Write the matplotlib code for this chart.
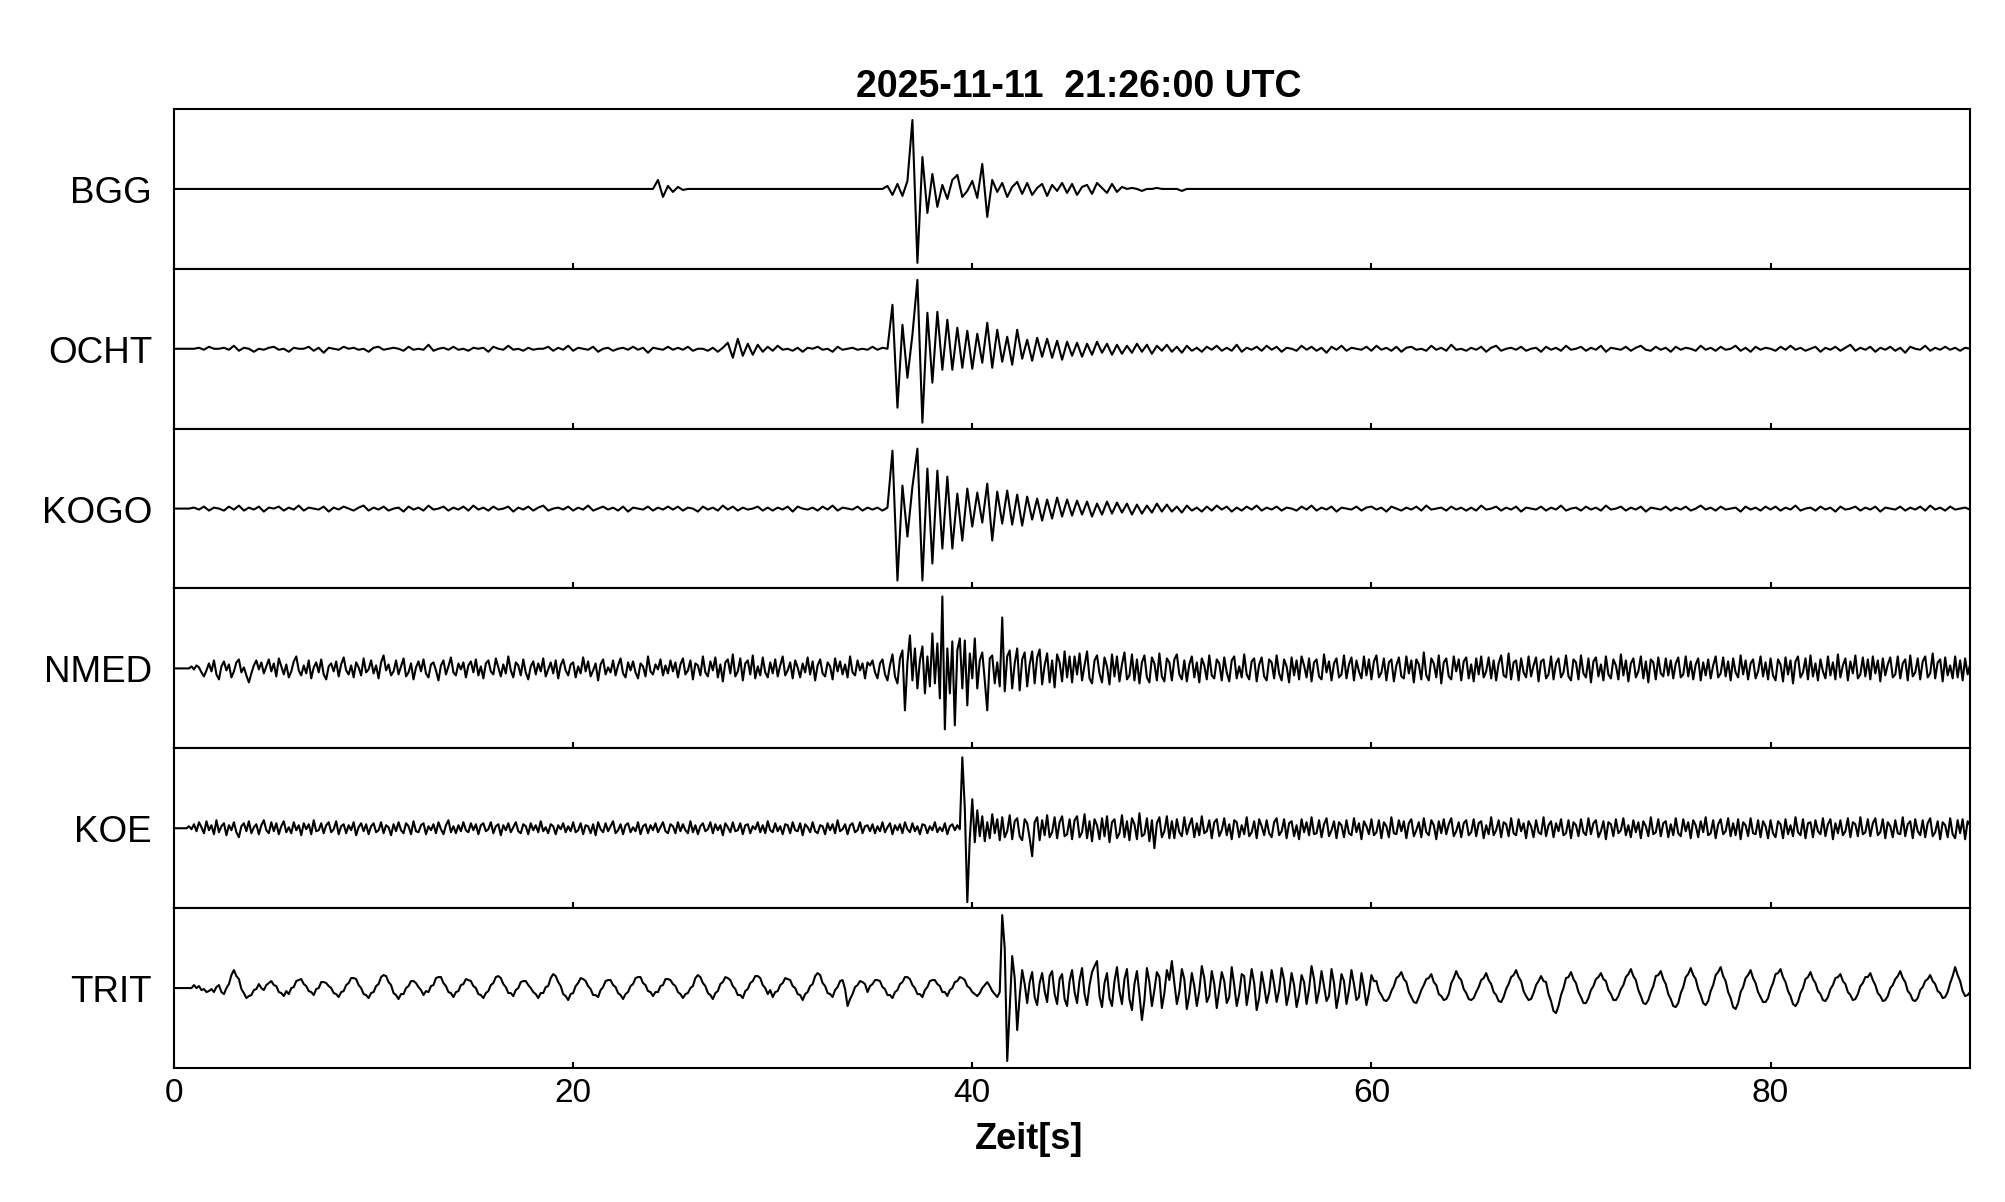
import numpy as np
import matplotlib.pyplot as plt

plt.rcParams['font.family'] = ['Liberation Sans', 'DejaVu Sans']

stations = ["BGG", "OCHT", "KOGO", "NMED", "KOE", "TRIT"]
dt = [0.25, 0.25, 0.25, 0.125, 0.125, 0.125]  # Abtastintervall je Spur [s]
xticks = [0, 20, 40, 60, 80]
title = "2025-11-11  21:26:00 UTC"

bgg = [
    0, 0, 0, 0, 0, 0, 0, 0, 0, 0, 0, 0, 0, 0, 0, 0, 0, 0, 0, 0,
    0, 0, 0, 0, 0, 0, 0, 0, 0, 0, 0, 0, 0, 0, 0, 0, 0, 0, 0, 0,
    0, 0, 0, 0, 0, 0, 0, 0, 0, 0, 0, 0, 0, 0, 0, 0, 0, 0, 0, 0,
    0, 0, 0, 0, 0, 0, 0, 0, 0, 0, 0, 0, 0, 0, 0, 0, 0, 0, 0, 0,
    0, 0, 0, 0, 0, 0, 0, 0, 0, 0, 0, 0, 0, 0, 0, 0, 0, 9, -8, 3,
    -3, 2, -1, 0, 0, 0, 0, 0, 0, 0, 0, 0, 0, 0, 0, 0, 0, 0, 0, 0,
    0, 0, 0, 0, 0, 0, 0, 0, 0, 0, 0, 0, 0, 0, 0, 0, 0, 0, 0, 0,
    0, 0, 0, 3, -6, 5, -7, 8, 69, -74, 32, -24, 15, -18, 4, -10, 9, 14, -8, -2,
    8, -9, 25, -28, 9, -3, 6, -8, 2, 7, -5, 6, -6, 1, 5, -7, 4, -2, 6, -4,
    5, -6, 2, 4, -5, 6, 1, -4, 5, -3, 2, 0, 1, 0, -2, 0, 0, 1, 0, 0,
    0, 0, -2, 0, 0, 0, 0, 0, 0, 0, 0, 0, 0, 0, 0, 0, 0, 0, 0, 0,
    0, 0, 0, 0, 0, 0, 0, 0, 0, 0, 0, 0, 0, 0, 0, 0, 0, 0, 0, 0,
    0, 0, 0, 0, 0, 0, 0, 0, 0, 0, 0, 0, 0, 0, 0, 0, 0, 0, 0, 0,
    0, 0, 0, 0, 0, 0, 0, 0, 0, 0, 0, 0, 0, 0, 0, 0, 0, 0, 0, 0,
    0, 0, 0, 0, 0, 0, 0, 0, 0, 0, 0, 0, 0, 0, 0, 0, 0, 0, 0, 0,
    0, 0, 0, 0, 0, 0, 0, 0, 0, 0, 0, 0, 0, 0, 0, 0, 0, 0, 0, 0,
    0, 0, 0, 0, 0, 0, 0, 0, 0, 0, 0, 0, 0, 0, 0, 0, 0, 0, 0, 0,
    0, 0, 0, 0, 0, 0, 0, 0, 0, 0, 0, 0, 0, 0, 0, 0, 0, 0, 0, 0, 0,
]

ocht = [
    0, 0, 0, 0, 0, 1, -1, 2, 0, 0, 1, -1, 3, -2, 1, 0, -3, 0, -1, 1,
    2, -1, 0, -3, 1, 0, 0, 2, -2, 1, -4, 1, 0, -1, 2, 0, 1, -1, 0, -3,
    1, 2, -1, 0, 1, 0, -2, 2, -1, 0, -1, 4, -2, 0, 1, -1, 2, -1, 0, -2,
    1, 0, 1, -3, 2, 0, -1, 3, -1, 0, -2, 1, -1, 0, 0, 2, -2, 1, -1, 3,
    -2, 1, 0, -1, 2, -3, 0, 1, -2, 0, 1, -1, 2, -1, 1, -4, 1, 0, -1, 2,
    -1, 1, -1, 2, -2, 0, 0, -2, 1, -3, 1, 6, -9, 10, -7, 5, -6, 4, -3, 2,
    -2, 3, -1, 0, -2, 1, -3, 1, 0, 2, -1, 0, -3, 2, -1, 0, 1, -1, 0, -1,
    2, -1, 1, 0, 44, -59, 24, -29, 14, 69, -74, 36, -34, 37, -21, 29, -21, 21, -19, 18,
    -20, 15, -14, 26, -19, 19, -13, 12, -16, 19, -10, 9, -12, 11, -8, 10, -9, 8, -11, 7,
    -7, 6, -8, 5, -6, 7, -4, 5, -6, 4, -5, 3, -4, 5, -3, 4, -5, 3, -2, 4,
    -3, 2, -4, 3, -2, 1, -3, 2, -1, 3, -2, 1, -2, 4, -3, 1, -1, 2, -2, 3,
    -1, 2, -3, 1, 0, -2, 3, -1, 2, -2, 1, -4, 2, -1, 3, -2, 1, 0, -1, 2,
    -2, 3, -1, 1, -2, 2, -3, 1, 2, -1, 0, -2, 3, -1, 1, -2, 4, -1, 0, -2,
    1, -1, 2, -3, 1, 3, -2, 0, 1, -1, 2, -2, 0, 1, -3, 2, -1, 1, -2, 3,
    -1, 0, 2, -2, 1, -1, 3, -3, 1, 0, -1, 2, -2, 1, 3, -1, -2, 2, -1, 1,
    -3, 2, -1, 1, 0, -2, 3, -1, 1, -2, 2, -1, 0, 3, -2, 1, -3, 2, -1, 1,
    0, -2, 2, -1, 3, -1, 1, -2, 0, 2, -3, 1, -1, 2, -2, 1, 4, -2, 1, -1,
    2, -3, 1, -1, 2, -2, 1, -4, 2, 0, -1, 3, -2, 1, -1, 2, -1, 1, -2, 1, 0,
]

kogo = [
    0, 0, 0, 0, 1, -1, 2, -2, 1, 0, -2, 2, -1, 3, -2, 1, -1, 2, -3, 1,
    0, 2, -2, 1, -1, 3, -2, 1, 0, -1, 2, -3, 1, -1, 2, 0, -2, 1, 3, -2,
    1, -1, 2, -2, 0, 1, -3, 2, -1, 1, -2, 3, -1, 0, 2, -2, 1, -1, 2, -2,
    3, -1, 1, -2, 2, -1, 0, 2, -3, 1, -1, 2, -2, 1, 3, -2, 0, 1, -1, 2,
    -2, 1, -1, 3, -2, 0, 2, -1, 1, -2, 2, -3, 1, 0, -1, 2, -2, 1, -1, 2,
    -1, 2, -2, 1, 0, -3, 2, -1, 1, -2, 3, -1, 2, -2, 1, -1, 0, 2, -2, 1,
    -2, 1, -1, 2, -3, 2, 0, -1, 1, -2, 2, -1, 3, -2, 1, 0, -1, 2, -2, 1,
    -1, 1, -2, 1, 58, -72, 23, -28, 22, 60, -72, 40, -55, 38, -40, 32, -40, 15, -32, 20,
    -18, 16, -14, 25, -32, 17, -15, 18, -16, 14, -17, 12, -11, 10, -12, 9, -10, 11, -8, 9,
    -7, 8, -6, 7, -8, 5, -6, 7, -5, 6, -4, 5, -6, 4, -5, 3, -4, 5, -3, 4,
    -3, 2, -4, 3, -2, 1, -3, 2, -2, 3, -1, 2, -3, 1, -2, 2, -1, 3, -2, 1,
    -1, 2, -2, 1, 0, -2, 2, -1, 3, -2, 1, -1, 2, -3, 1, 0, -1, 2, -2, 1,
    2, -1, 1, -3, 2, 0, -2, 1, -1, 2, -2, 3, -1, 0, 1, -2, 2, -1, 1, -2,
    1, -2, 3, -1, 0, 2, -2, 1, -1, 2, -3, 1, 0, -1, 2, -2, 1, -1, 3, -2,
    0, 1, -2, 2, -1, 1, -2, 3, -1, 0, 2, -2, 1, -1, 2, -3, 1, 0, -1, 2,
    -2, 1, -1, 2, -2, 0, 3, -1, 1, -2, 2, -1, 0, 1, -3, 2, -1, 1, -2, 2,
    -1, 2, -2, 1, -1, 3, -2, 0, 1, -2, 2, -1, 1, -3, 2, -1, 0, 2, -2, 1,
    -1, 2, -3, 1, 0, -1, 2, -2, 1, -1, 2, -2, 3, -1, 1, -2, 2, -1, 0, 1, -1,
]

nmed = [
    0, 0, 0, 0, 0, 0, 0, 2, -1, 3, 1, -4, -8, -2, 5, -3, 8, -6, -11, 2, 7, -2, 4, -9, -3, 6, 9, -4, 1, -7, -14, -5, 3, 8, -1, 6, -5, 2, 9, -3,
    5, -8, 10, 2, -6, 4, -9, -3, 7, 12, -2, -7, 3, -5, 8, -10, 1, 6, -4, 9, -6, -11, 2, 5, -3, 7, -8, 4, 11, -2, -6, 3, -9, 6, 1, -7, 10, -4, -1, 8,
    -5, 3, -10, 6, 13, -2, 4, -7, -3, 8, -6, 2, 10, -8, -4, 5, -11, 1, 7, -3, 9, -5, -9, 4, 6, -2, -12, 3, 8, -6, 2, 11, -4, -7, 5, -1, 6, -9, 3, 7,
    -4, 9, -7, 2, -10, 5, 8, -3, -6, 10, 1, -8, 4, -5, 12, -2, -9, 6, 3, -7, 9, -4, -11, 2, 7, -6, 5, -3, 10, -8, -1, 6, -5, 8, -10, 3, 9, -2, -7, 4,
    6, -9, 2, -5, 11, -3, 7, -8, -2, 5, -12, 4, 9, -6, 1, -4, 8, -7, 3, 10, -5, -9, 6, -2, 7, -4, -10, 5, 2, -8, 12, -3, -6, 4, -1, 9, -7, 3, -5, 8,
    -3, 6, -9, 4, 10, -6, -2, 8, -11, 5, 3, -7, 12, -4, -8, 7, -2, 11, -9, 4, -13, 6, 9, -5, 14, -8, -3, 10, -12, 5, 8, -6, 13, -10, 2, -7, 11, -4, -9, 6,
    -5, 9, -8, 3, 12, -7, -2, 6, -10, 8, 1, -9, 5, -4, 11, -6, 7, -12, 3, 9, -5, -8, 6, 2, -11, 10, -3, 7, -6, 4, -9, 12, -4, -7, 8, -2, 5, -10, 6, 3,
    8, -4, -10, 5, 9, -6, -12, 3, 14, -8, -15, 10, 18, -42, 6, 33, -12, 20, -20, 8, 22, -25, 12, -18, 35, -15, 25, -30, 72, -61, 20, -25, 27, -57, 18, 30, -20, 28, -37, 15,
    -10, 30, -20, 8, 16, -12, -42, 10, 13, -15, 6, -18, 51, -23, 12, 18, -20, 5, 20, -22, 9, 16, -18, 4, 17, -15, 11, 19, -16, 3, 15, -14, 8, -19, 14, 6, -13, 17, -9, 12,
    -14, 12, -6, 15, -12, 3, 17, -10, -15, 8, 13, -5, -14, 11, 2, -16, 14, -8, 12, -13, 4, 16, -11, -7, 14, -12, 9, -15, 6, 13, -9, -14, 11, 5, -12, 15, -8, -13, 10, 6,
    -12, 9, 14, -6, -11, 8, -13, 4, 12, -9, 6, -14, 10, 3, -11, 13, -7, -10, 9, 5, -12, 11, -4, -13, 8, 12, -10, 2, -9, 14, -6, -11, 7, 10, -13, 4, 11, -8, -12, 9,
    6, -10, 13, -5, -12, 9, 2, -14, 11, -7, 8, -11, 12, 3, -9, 10, -13, 6, 9, -8, -11, 14, -4, 7, -12, 5, 10, -9, -6, 13, -10, 4, 11, -12, 8, -3, -10, 12, -7, 9,
    -11, 7, 13, -9, -4, 10, -12, 6, 9, -13, 3, 11, -8, -10, 12, -5, 8, -14, 9, 4, -11, 16, -7, -12, 10, 5, -9, 13, -15, 6, 10, -8, -11, 12, -3, 9, -12, 7, 11, -10,
    4, -13, 10, -6, 12, -9, -3, 11, -10, 8, -12, 5, 13, -7, -9, 15, -11, 6, 8, -12, 10, -4, -9, 12, -8, 3, 11, -13, 7, 9, -10, -6, 12, -11, 5, 10, -9, -4, 13, -8,
    -12, 9, 6, -11, 13, -5, -9, 10, -14, 7, 11, -8, 4, -12, 12, -6, -10, 9, 3, -11, 14, -7, 8, -13, 5, 10, -9, -3, 12, -10, 7, -14, 9, 6, -11, 11, -5, -8, 10, -7,
    8, -10, 5, 11, -9, -6, 12, -8, 7, -11, 4, 10, -12, 6, -7, 9, -10, 3, 12, -9, -5, 11, -8, 7, -12, 10, -4, -9, 13, -6, 8, -11, 5, 9, -10, -3, 12, -8, 6, -11,
    10, -7, -12, 9, 4, -13, 11, -6, 8, -15, 7, 12, -9, -4, 10, -11, 13, -8, 5, -12, 9, -3, -10, 12, -7, 6, -11, 14, -9, 3, 10, -12, 7, -5, 13, -10, -6, 11, -8, 9,
    -11, 12, -5, 8, -13, 10, -7, 4, 11, -9, -6, 12, -10, 5, 9, -12, 13, -8, -4, 10, -11, 7, 12, -9, -5, 15, -10, 6, 9, -13, 11, -7, 3, -10, 12, -9, 8, -12, 10, -6, 4,
]

koe = [
    0, 0, 0, 0, 0, 0, 2, -1, 4, -3, 6, 1, -5, 7, -2, 3, -6, 8, -4, 2, 5, -7, 3, -2, 6, -4, -9, 2, 5, -3, 7, -5, 1, 4, -6, 3, 8, -2, -5, 6,
    -3, 5, -6, 2, 7, -4, 1, -5, 6, -2, 3, -7, 5, -1, 4, -6, 8, -3, -2, 5, -5, 3, 6, -4, -1, 7, -6, 2, 4, -5, 3, -2, 6, -7, 1, 5, -3, 4, -6, 2,
    5, -4, -2, 6, -5, 3, 1, -7, 4, -3, 6, -2, -5, 5, 2, -6, 7, -3, -4, 3, 5, -6, 2, -2, 4, -5, 6, -1, -6, 3, 8, -4, 2, -5, 3, -3, 6, -2, -4, 5,
    -2, 4, -6, 3, 5, -3, -1, 6, -5, 2, 4, -7, 3, -2, 5, -4, 1, 6, -3, -5, 4, 2, -6, 5, -2, 3, -4, 7, -3, 1, -5, 4, 2, -6, 3, -1, 5, -4, 2, -3,
    6, -4, -2, 5, -6, 3, 2, -5, 4, -7, 6, -1, -4, 5, -3, 2, 7, -5, -2, 4, -6, 3, 5, -4, 1, -3, 6, -6, 2, 4, -5, 3, -2, 5, -4, 1, 6, -3, -5, 4,
    2, -5, 6, -3, 4, -2, -5, 7, -4, 3, -6, 2, 5, -3, -1, 6, -5, 4, -2, 3, -7, 5, 1, -4, 6, -3, -2, 5, -6, 3, 4, -5, 2, -1, 6, -4, 3, -5, 7, -2,
    -4, 5, -3, 2, -6, 4, 3, -5, 6, -2, -3, 5, -7, 4, 1, -4, 6, -3, -5, 3, 2, -6, 5, -2, 4, -5, 8, -3, -1, 4, -6, 3, 5, -4, -2, 6, -5, 2, 3, -3,
    4, -5, 2, -3, 6, -4, 1, 5, -6, 3, -2, 4, -5, 6, -1, -4, 5, -3, 2, -6, 4, 3, -5, 2, -2, 6, -4, 1, -3, 5, -6, 2, 4, -2, 3, -1, 71, 20, -74, -10,
    29, -14, 18, -8, 12, -13, 6, -10, 14, -5, 9, -12, 11, -9, -3, 13, -11, 7, 10, -8, -12, 9, 5, -10, -28, 6, 11, -12, 8, -7, 13, -9, -4, 11, -10, 6, 12, -8, -6, 9,
    -11, 8, 12, -9, -4, 14, -10, 7, -13, 9, 3, -11, 10, -8, 12, -14, 6, 9, -10, -5, 13, -9, 7, -12, 10, 4, -11, 15, -8, -6, 10, -13, 8, -20, 5, 11, -9, -3, 12, -10,
    7, -10, 9, -4, -8, 11, -6, 3, 10, -9, 5, -7, 12, -5, -3, 8, -10, 6, 9, -8, -2, 10, -7, 4, -11, 8, 6, -9, 3, -6, 11, -8, -4, 7, -10, 9, 2, -7, 8, -5,
    -9, 6, 10, -7, -3, 9, -10, 5, 7, -8, 3, -11, 9, -4, 6, -7, 11, -6, -5, 8, -9, 4, 10, -8, -2, 7, -10, 6, 3, -9, 8, -5, -7, 10, -4, 5, -11, 7, 2, -6,
    9, -7, -4, 8, -10, 6, 2, -9, 11, -5, -6, 8, -3, 7, -10, 5, 9, -8, -2, 6, -9, 10, -4, -7, 8, 3, -11, 7, -5, 9, -6, 4, 10, -8, -3, 6, -9, 5, 8, -7,
    -4, 9, -8, 5, 7, -10, 3, -6, 11, -7, -2, 8, -9, 6, 4, -8, 10, -5, -7, 9, -3, 5, -10, 7, 2, -9, 8, -4, -6, 11, -8, 3, 7, -9, 5, -3, 9, -7, -5, 8,
    -10, 6, 3, -8, 9, -4, -7, 10, -6, 5, 8, -9, -3, 7, -11, 6, 4, -8, 9, -5, -2, 10, -7, 3, -9, 8, -4, 6, -10, 7, 2, -8, 11, -6, -4, 9, -8, 5, 7, -9,
    4, -7, 10, -5, -8, 9, -3, 6, -10, 8, 3, -9, 7, -4, 11, -7, -5, 8, -10, 4, 9, -6, -3, 10, -8, 5, -7, 9, -11, 6, 3, -8, 10, -5, -6, 8, -9, 7, 2, -10,
    8, -5, -9, 7, 4, -10, 9, -6, 3, -8, 11, -4, -7, 9, -10, 5, 6, -9, 8, -3, -6, 10, -8, 4, 9, -11, 5, -5, 8, -7, -3, 10, -9, 6, 4, -8, 11, -6, -4, 9,
    -8, 5, 10, -7, -4, 9, -10, 6, 2, -9, 8, -5, -6, 11, -8, 4, 7, -10, 9, -3, -7, 8, -9, 5, 10, -8, -4, 7, -11, 6, 3, -9, 10, -6, -10, 8, -5, 9, -11, 7, 3,
]

trit = [
    0, 0, 0, 0, 0, 0, 0, 0, 3, 0, 2, -2, -1, -4, -3, -1, -4, 1, 3, -4, -6, 0, 4, 13, 18, 12, 9, -1, -5, -10, -8, -7, -2, -1, 4, 0, -2, 3, 5, 7,
    3, 2, -4, -5, -8, -3, -6, 0, 1, 7, 8, 9, 4, 2, -3, -4, -7, -1, 0, 6, 6, 5, 2, 0, -5, -6, -9, -4, -3, 3, 5, 10, 10, 9, 3, 0, -6, -7, -10, -5,
    -4, 2, 4, 11, 13, 12, 6, 3, -5, -7, -11, -6, -6, 0, 2, 7, 7, 5, 1, -2, -7, -3, -4, 2, 3, 10, 11, 11, 5, 2, -4, -5, -9, -4, -3, 3, 4, 9, 8, 7,
    2, 0, -6, -7, -10, -5, -3, 3, 5, 11, 12, 10, 4, 1, -5, -5, -8, -2, 0, 6, 7, 7, 3, 0, -4, -6, -10, -5, -5, 1, 2, 10, 14, 12, 6, 2, -6, -8, -12, -6,
    -5, 2, 5, 10, 9, 7, 2, -1, -7, -7, -9, -2, 1, 7, 8, 8, 3, 1, -5, -7, -11, -6, -4, 2, 4, 10, 11, 11, 5, 3, -3, -4, -8, -4, -4, 2, 3, 9, 9, 8,
    4, 2, -4, -6, -10, -6, -5, 0, 2, 10, 13, 11, 5, 2, -5, -7, -11, -5, -3, 4, 6, 11, 10, 8, 2, -1, -7, -7, -10, -3, -1, 5, 7, 12, 12, 10, 3, 0, -6, -2,
    -9, -4, -3, 3, 5, 10, 9, 8, 2, 0, -6, -7, -12, -6, -4, 2, 4, 12, 15, 13, 5, 2, -5, -6, -9, -2, 1, 7, 8, -1, -18, -11, -6, 1, 3, 7, 6, 4, -4, 2,
    4, 8, 8, 7, 1, -1, -7, -7, -10, -4, -2, 4, 6, 11, 11, 9, 3, 0, -6, -6, -9, -2, 1, 7, 8, 8, 4, 2, -4, -4, -8, -2, 0, 6, 7, 11, 10, 8, 2, 0,
    -4, -6, -8, -5, 0, 3, 6, 2, -3, -6, -9, -4, 73, 40, -73, -20, 32, 10, -42, -8, 18, 4, -15, 6, 16, -9, -17, 5, 15, -3, -14, 12, 17, -6, -16, 9, 14, -11, -18, 7,
    18, -4, -15, 8, 20, -6, -17, 3, 16, 22, 27, -8, -19, 5, 15, -10, -18, 7, 21, -3, -16, 9, 19, -11, -22, 4, 17, -6, -32, -12, 20, 6, -18, -2, 16, 11, -20, -5, 18, 8,
    27, 5, -16, -4, 19, 9, -21, -7, 15, 2, -18, -3, 22, 10, -14, -8, 17, 4, -20, -2, 16, 7, -15, -9, 21, 3, -18, -6, 14, 12, -17, -1, 19, 5, -22, -10, 16, 2, -15, -4,
    18, 4, -14, -2, 20, 8, -17, -5, 15, 3, -19, -7, 13, 6, -16, -1, 22, 9, -15, -3, 17, 2, -13, -8, 19, 5, -20, -6, 14, 7, -16, -2, 18, 4, -12, -9, 15, 1, -17, -5,
    13, 7, 7, -3, -7, -12, -13, -10, -3, 2, 10, 12, 16, 9, 6, -4, -9, -14, -15, -9, -2, 3, 9, 10, 14, 6, 3, -6, -8, -12, -11, -6, 5, 10, 17, 11, 8, -1, -5, -11,
    -12, -10, -4, 1, 8, 10, 15, 8, 4, -4, -7, -13, -14, -9, -1, 4, 11, 13, 18, 11, 7, -3, -8, -12, -11, -5, 3, 7, 12, 7, 6, -6, -13, -23, -25, -18, -7, 0, 10, 11,
    16, 9, 5, -4, -9, -15, -15, -10, -2, 2, 9, 11, 15, 9, 7, -2, -6, -12, -12, -8, -1, 3, 11, 14, 19, 12, 8, -2, -8, -15, -16, -12, -4, 2, 12, 13, 17, 9, 4, -6,
    -11, -18, -19, -15, -5, 1, 11, 14, 20, 13, 9, -1, -7, -15, -17, -13, -3, 3, 13, 16, 21, 12, 7, -4, -10, -19, -21, -15, -4, 1, 10, 13, 18, 10, 5, -4, -9, -14, -14, -10,
    -1, 5, 14, 15, 19, 11, 6, -3, -8, -16, -18, -14, -5, 0, 9, 11, 16, 9, 5, -3, -6, -12, -13, -9, -1, 3, 10, 11, 14, 7, 4, -4, -7, -12, -11, -6, 2, 5, 11, 11,
    15, 8, 3, -5, -8, -13, -12, -8, 0, 3, 9, 12, 17, 10, 6, -3, -6, -12, -13, -10, -2, 1, 7, 9, 13, 7, 4, -3, -5, -10, -9, -4, 5, 12, 21, 13, 7, -3, -8, -7, -4,
]

traces = [bgg, ocht, kogo, nmed, koe, trit]

fig, axes = plt.subplots(len(stations), 1, sharex=True, figsize=(20.05, 12.02), dpi=100)
fig.subplots_adjust(left=0.0868, right=0.9826, top=0.9093, bottom=0.1115, hspace=0)

for ax, name, tr, step in zip(axes, stations, traces, dt):
    y = np.array(tr, dtype=float)
    t = np.arange(len(y)) * step
    ax.plot(t, y, color='black', lw=1.5)
    ax.set_xlim(0, 90)
    ax.set_ylim(-80, 80)
    ax.set_yticks([])
    ax.text(-0.0122, 0.412, name, transform=ax.transAxes, ha='right', va='baseline', fontsize=26.5)
    ax.tick_params(axis='x', direction='in', length=4.5, width=1.5, labelsize=24, pad=7)
    for sp in ax.spines.values():
        sp.set_linewidth(1.5)

axes[-1].set_xticks(xticks)
fig.text(0.538, 0.928, title, ha='center', va='center', fontsize=27, fontweight='bold')
fig.text(0.513, 0.052, "Zeit[s]", ha='center', va='center', fontsize=26, fontweight='bold')

fig.savefig("out.png", dpi=100)
